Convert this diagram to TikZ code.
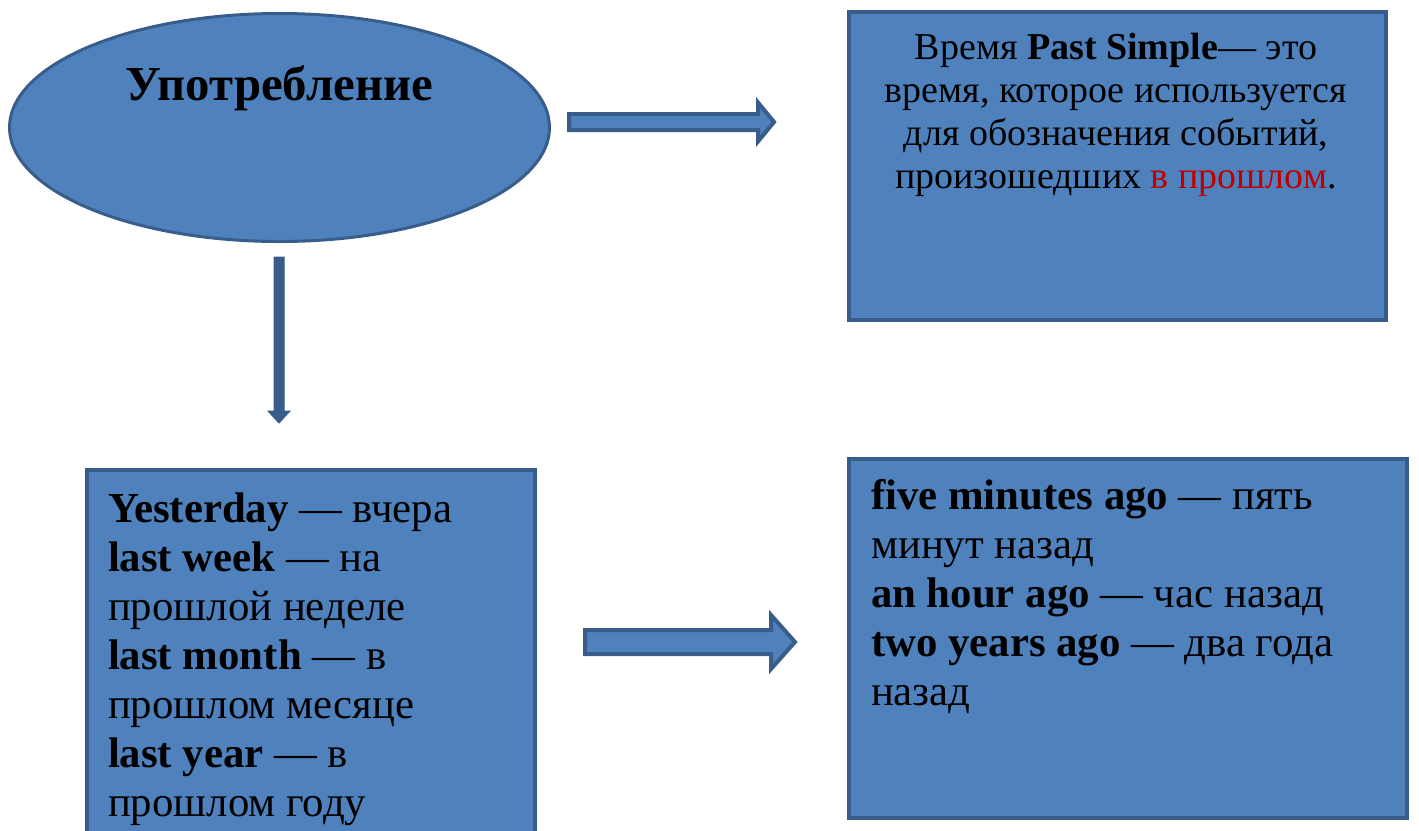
\documentclass[tikz,border=0pt]{standalone}
\usepackage{fontspec}
\setmainfont{Liberation Serif}
\usetikzlibrary{positioning,calc,shapes.geometric}
\definecolor{boxfill}{HTML}{4F81BD}
\definecolor{boxline}{HTML}{385D8A}
\definecolor{pastred}{HTML}{C00000}
% right-pointing block arrow: start, tip, half shaft, half head, head length
\newcommand{\harrow}[5]{%
  \draw [blockarrow] ($(#1)+(0,-#3)$) -- ($(#2)+(-#5,-#3)$) -- ($(#2)+(-#5,-#4)$) -- (#2)
    -- ($(#2)+(-#5,#4)$) -- ($(#2)+(-#5,#3)$) -- ($(#1)+(0,#3)$) -- cycle;}

\begin{document}
\begin{tikzpicture}[x=0.5pt,y=-0.5pt]
\tikzstyle{every node}+=[inner sep=0pt, outer sep=0pt]
\tikzstyle{bluebox}=[draw=boxline, fill=boxfill, line width=2pt]
\tikzstyle{blockarrow}=[draw=boxline, fill=boxfill, line width=2pt, line join=miter]
\tikzstyle{boxtext}=[font=\fontsize{21.4}{24.5}\selectfont, align=left]
\useasboundingbox (0,0) rectangle (1419,830);
% shapes
\node [bluebox, ellipse, line width=1.5pt, minimum width=270pt, minimum height=114pt] (usage) at (279.5,127.5) {};
\node [bluebox, minimum width=268.5pt, minimum height=154pt] (past) at (1117.5,166) {};
\node [bluebox, minimum width=224pt, minimum height=200pt] (words) at (311,670) {};
\node [bluebox, minimum width=279pt, minimum height=179.5pt] (ago) at (1128,638.5) {};
% texts
\node [font=\bfseries\fontsize{24.4}{30}\selectfont] (usageText) at ($(usage.center)+(0,-39)$) {Употребление};
\node [font=\fontsize{19}{21.5}\selectfont, align=center, anchor=north] (pastText) at (1116,33)
  {Время \textbf{Past Simple}— это\\время, которое используется\\для обозначения событий,\\произошедших \textcolor{pastred}{в прошлом}.};
\node [boxtext, anchor=north west] (wordsText) at (108,493)
  {\textbf{Yesterday} — вчера\\\textbf{last week} — на\\прошлой неделе\\\textbf{last month} — в\\прошлом месяце\\\textbf{last year} — в\\прошлом году};
\node [boxtext, anchor=north west] (agoText) at (871,479)
  {\textbf{five minutes ago} — пять\\минут назад\\\textbf{an hour ago} — час назад\\\textbf{two years ago} — два года\\назад};
% arrows
\coordinate (r1) at (569,122);
\coordinate (r2) at (774,122);
\harrow{r1}{r2}{8}{19.5}{16}
\coordinate (b1) at (585,642);
\coordinate (b2) at (795,642);
\harrow{b1}{b2}{12}{27}{24}
\coordinate (d1) at (279,257);
\coordinate (d2) at (279,423);
\draw [blockarrow, fill=boxline, line width=0.5pt] ($(d1)+(-5,0)$) -- ($(d2)+(-5,-12)$) -- ($(d2)+(-11,-12)$) -- (d2)
  -- ($(d2)+(11,-12)$) -- ($(d2)+(5,-12)$) -- ($(d1)+(5,0)$) -- cycle;
\end{tikzpicture}
\end{document}
